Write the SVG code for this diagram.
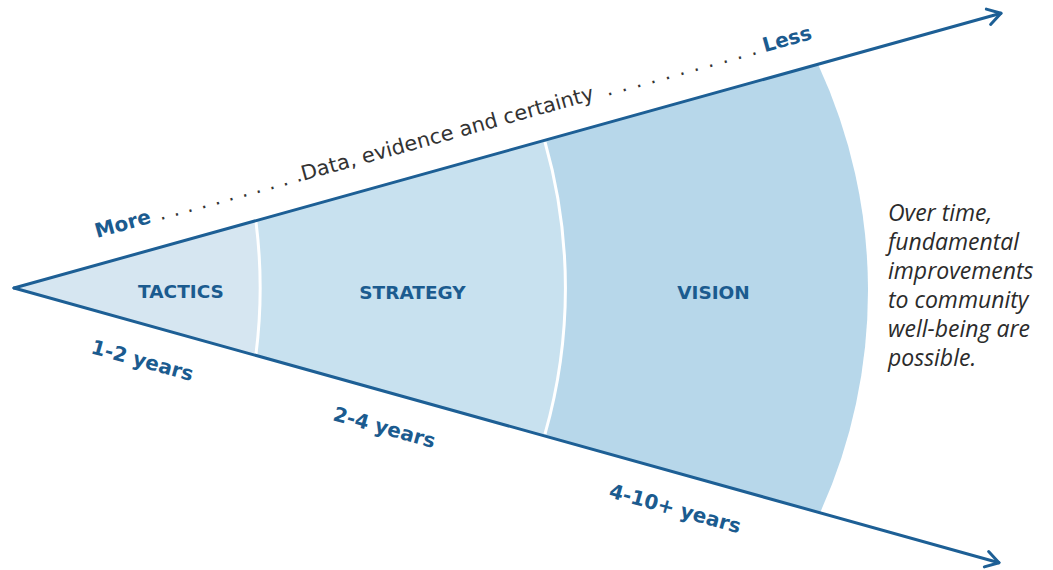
<svg xmlns="http://www.w3.org/2000/svg" width="1053" height="570" viewBox="0 0 1053 570">
  <style>
    .label { font-family: "DejaVu Sans", "Liberation Sans", sans-serif; font-weight: bold; fill: #1b5b8f; }
    .stage { font-size: 18.5px; text-anchor: middle; }
    .axis { font-size: 20px; }
    .caption { font-family: "DejaVu Sans", "Open Sans", sans-serif; font-size: 20.5px; fill: #333333; }
    .dots { font-family: "DejaVu Sans", sans-serif; font-size: 20px; fill: #333333; }
    .note { font-family: "Open Sans", "Liberation Sans", sans-serif; font-style: italic; font-size: 23px; fill: #2b2b2b; }
    .ray { fill: none; stroke: #1d5f95; stroke-width: 3; stroke-linecap: round; }
    .divider { fill: none; stroke: #ffffff; stroke-width: 3; }
  </style>
  <defs>
    <marker id="chevron" markerUnits="userSpaceOnUse" orient="auto" refX="0" refY="0" viewBox="-16 -10 20 20" markerWidth="20" markerHeight="20">
      <path d="M-13,-8 L0,0 L-13,8" fill="none" stroke="#1d5f95" stroke-width="3" stroke-linecap="round" stroke-linejoin="round"/>
    </marker>
  </defs>

  <rect width="1053" height="570" fill="#ffffff"/>

  <!-- time-horizon wedges, widest first -->
  <g id="vision">
    <path d="M14,288 L818,64.2 A538,538 0 0 1 820,512.8 Z" fill="#b7d7ea"/>
    <text class="label stage" x="713.5" y="299">VISION</text>
  </g>
  <g id="strategy">
    <path d="M14,288 L545,140.2 A532,532 0 0 1 545,436.1 Z" fill="#c8e1ef"/>
    <text class="label stage" x="412.5" y="299">STRATEGY</text>
  </g>
  <g id="tactics">
    <path d="M14,288 L256,220.6 A525,525 0 0 1 256,355.5 Z" fill="#d6e6f1"/>
    <text class="label stage" x="181" y="298">TACTICS</text>
  </g>

  <!-- white separators between stages -->
  <g id="dividers">
    <path class="divider" d="M256,222 A525,525 0 0 1 256,354"/>
    <path class="divider" d="M545,142 A532,532 0 0 1 545,434"/>
  </g>

  <!-- the two diverging arrows -->
  <g id="connectors">
    <path class="ray" d="M14,288 L1001,13.3" marker-end="url(#chevron)"/>
    <path class="ray" d="M14,288 L999,562.7" marker-end="url(#chevron)"/>
  </g>

  <!-- scale along the upper arrow -->
  <g id="certainty-scale" transform="translate(97,238) rotate(-15.55)">
    <text class="label axis" x="0" y="0">More</text>
    <text class="dots" x="66" y="0" letter-spacing="7.8">...........</text>
    <text class="caption" x="214" y="0" textLength="303" lengthAdjust="spacingAndGlyphs">Data, evidence and certainty</text>
    <text class="dots" x="530" y="0" letter-spacing="8.6">...........</text>
    <text class="label axis" x="693" y="0">Less</text>
  </g>

  <!-- durations along the lower arrow -->
  <g id="durations">
    <text class="label axis" transform="translate(90,353) rotate(15.6)">1-2 years</text>
    <text class="label axis" transform="translate(332,420) rotate(15.6)">2-4 years</text>
    <text class="label axis" transform="translate(608,497) rotate(15.6)">4-10+ years</text>
  </g>

  <g id="outcome-note">
    <text class="note" x="888" y="221">Over time,</text>
    <text class="note" x="888" y="250">fundamental</text>
    <text class="note" x="888" y="279">improvements</text>
    <text class="note" x="888" y="308">to community</text>
    <text class="note" x="888" y="337">well-being are</text>
    <text class="note" x="888" y="366">possible.</text>
  </g>
</svg>
